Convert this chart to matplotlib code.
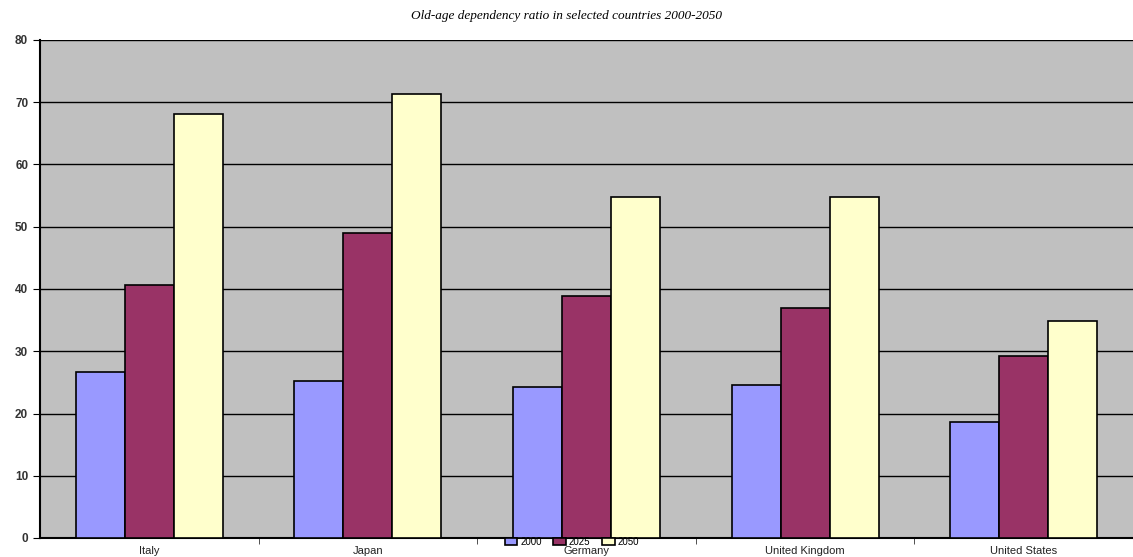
import matplotlib.pyplot as plt
import numpy as np

countries = ["Italy", "Japan", "Germany", "United Kingdom", "United States"]
years = ["2000", "2025", "2050"]
ratio_2000 = [26.7, 25.2, 24.2, 24.5, 18.6]
ratio_2025 = [40.6, 49.0, 38.9, 37.0, 29.2]
ratio_2050 = [68.1, 71.3, 54.7, 54.7, 34.9]

colors = ["#9999FF", "#993366", "#FFFFCC"]

fig = plt.figure(figsize=(11.33, 5.57), dpi=100)
ax = fig.add_axes([40 / 1133, 1 - 538 / 557, 1 - 40 / 1133, (538 - 40) / 557])
ax.set_facecolor("#C0C0C0")

x = np.arange(len(countries))
width = 0.224
handles = []
for i, (vals, c) in enumerate(zip([ratio_2000, ratio_2025, ratio_2050], colors)):
    b = ax.bar(x + (i - 1) * width, vals, width, color=c, edgecolor="black",
               linewidth=1.2, label=years[i], zorder=3)
    handles.append(b)

ax.set_xlim(-0.5, len(countries) - 0.5)
ax.set_ylim(0, 80)
ax.set_yticks(np.arange(0, 81, 10))
ax.yaxis.grid(True, color="black", linewidth=1.0, zorder=1)
ax.set_axisbelow(True)

ax.set_xticks(x)
ax.set_xticklabels(countries, fontsize=8, family="Liberation Sans", color="#222222")
ax.set_xticks(x[:-1] + 0.5, minor=True)
ax.tick_params(axis="x", which="major", length=0, pad=6)
ax.tick_params(axis="x", which="minor", length=4, direction="out", color="#333333")
ax.tick_params(axis="y", length=5, direction="out", labelsize=8.5, labelcolor="#333333")
for lab in ax.get_yticklabels():
    lab.set_family("Liberation Sans")
    lab.set_fontweight("bold")

for s in ["top", "right"]:
    ax.spines[s].set_visible(False)
ax.spines["left"].set_linewidth(1.5)
ax.spines["bottom"].set_linewidth(1.5)

fig.legend(handles=handles, labels=years, loc="center", bbox_to_anchor=(572 / 1133, 1 - 542 / 557),
           ncol=3, frameon=False, handlelength=1.3, handleheight=0.7,
           columnspacing=1.2, handletextpad=0.3, borderpad=0.0,
           prop={"family": "Liberation Sans", "size": 7})

fig.text(0.5, 1 - 16 / 557, "Old-age dependency ratio in selected countries 2000-2050",
         ha="center", va="center", fontsize=9.5, style="italic", family="Liberation Serif")

fig.savefig("out.png", dpi=100)
